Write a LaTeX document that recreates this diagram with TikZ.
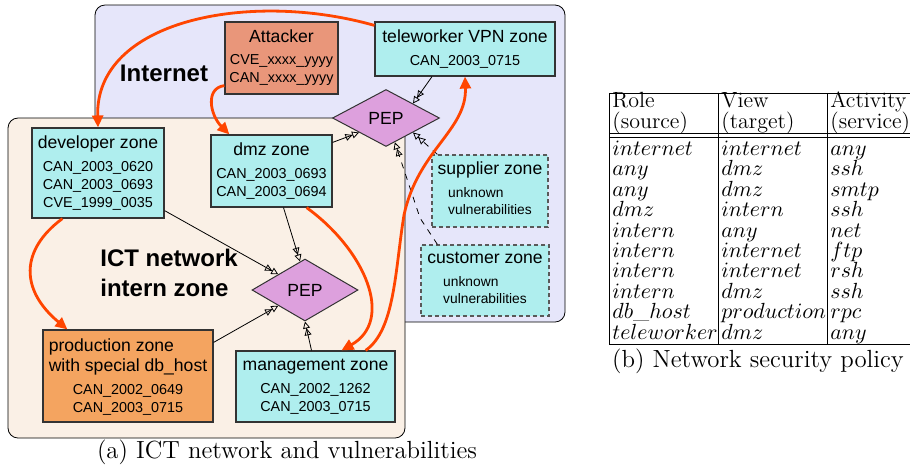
\documentclass[tikz,border=0pt]{standalone}
\usepackage{fontspec}
\usetikzlibrary{shapes.geometric,arrows.meta}
\newfontfamily\zonefont{Liberation Sans}

\definecolor{inetbg}{RGB}{230,230,250}
\definecolor{internbg}{RGB}{250,240,230}
\definecolor{zonebg}{RGB}{175,238,238}
\definecolor{attackbg}{RGB}{233,150,122}
\definecolor{prodbg}{RGB}{244,164,96}
\definecolor{pepbg}{RGB}{221,160,221}
\definecolor{exploitred}{RGB}{255,69,0}

\newcommand{\ztitle}{\fontsize{8.8}{10}\selectfont}
\newcommand{\zvul}{\fontsize{7.2}{9}\selectfont}
\newcommand{\zunk}{\fontsize{6.9}{8.5}\selectfont}

\tikzset{
  zone/.style={draw=black!80, line width=0.6pt, fill=zonebg, align=center,
    inner sep=0pt, font=\zonefont\zvul},
  extzone/.style={zone, draw=black!65, dash pattern=on 2pt off 1.5pt},
  pep/.style={diamond, draw=black!80, line width=0.5pt, fill=pepbg,
    inner sep=0pt, font=\zonefont\ztitle},
  link/.style={draw=black, line width=0.4pt,
    -{Triangle[open,length=3.5pt,width=3.5pt] Triangle[open,length=3.5pt,width=3.5pt]}},
  exploit/.style={draw=exploitred, line width=1.4pt,
    -{Triangle[length=6pt,width=5.5pt]}},
  cell/.style={anchor=base west, inner sep=0pt, font=\fontsize{11}{13}\selectfont},
  caption/.style={font=\fontsize{12.4}{14}\selectfont}
}

\begin{document}
\begin{tikzpicture}[x=0.5pt,y=-0.5pt]
  \useasboundingbox (0,0) rectangle (910,468);

  % network zones
  \draw[fill=inetbg, rounded corners=5pt] (95,5) rectangle (565,322);
  \draw[fill=internbg, rounded corners=5pt] (8,118) rectangle (405,438);
  \node[font=\zonefont\fontsize{12}{14}\selectfont\bfseries] (inetlabel) at (164,73) {Internet};
  \node[anchor=west, align=left, inner sep=0pt,
    font=\zonefont\fontsize{12}{14.7}\selectfont\bfseries] (internlabel) at (100,273)
    {ICT network\\intern zone};

  % zones and vulnerabilities
  \node[zone, fill=attackbg, minimum width=56.5pt, minimum height=36pt] (att) at (281.5,58)
    {{\ztitle Attacker}\\[2pt]CVE\_xxxx\_yyyy\\CAN\_xxxx\_yyyy};
  \node[zone, minimum width=90pt, minimum height=27pt] (tele) at (465,49)
    {{\ztitle teleworker VPN zone}\\[2.2pt]CAN\_2003\_0715};
  \node[zone, minimum width=66pt, minimum height=45pt] (dev) at (98,173)
    {{\ztitle developer zone}\\[2.2pt]CAN\_2003\_0620\\CAN\_2003\_0693\\CVE\_1999\_0035};
  \node[zone, minimum width=60.5pt, minimum height=36pt] (dmz) at (271.5,171)
    {{\ztitle dmz zone}\\[2.5pt]CAN\_2003\_0693\\CAN\_2003\_0694};
  \node[extzone, minimum width=58pt, minimum height=36pt] (sup) at (490,191)
    {{\ztitle supplier zone}\\[2.5pt]\zunk\begin{tabular}[t]{@{}l@{}}unknown\\vulnerabilities\end{tabular}};
  \node[extzone, minimum width=64pt, minimum height=35.5pt] (cust) at (485,280.5)
    {{\ztitle customer zone}\\[2.5pt]\zunk\begin{tabular}[t]{@{}l@{}}unknown\\vulnerabilities\end{tabular}};
  \node[zone, fill=prodbg, minimum width=85pt, minimum height=46pt] (prod) at (128,376)
    {{\ztitle\begin{tabular}[b]{@{}l@{}}production zone\\with special db\_host\end{tabular}}\\[2.5pt]CAN\_2002\_0649\\CAN\_2003\_0715};
  \node[zone, minimum width=79.5pt, minimum height=35.5pt] (mgmt) at (315.5,386.5)
    {{\ztitle management zone}\\[2.5pt]CAN\_2002\_1262\\CAN\_2003\_0715};

  % policy enforcement points
  \node[pep, minimum width=53.5pt, minimum height=28.5pt] (pepA) at (386,118) {PEP};
  \node[pep, minimum width=53pt, minimum height=31pt] (pepB) at (305,290) {PEP};

  \draw[link] ([xshift=-16.5pt]tele.south) -- (pepA.north east);
  \draw[link] ([yshift=-4pt]dmz.north east) -- (pepA.south west);
  \draw[link, dashed] ([xshift=3pt]sup.north west) -- (pepA.south east);
  \coordinate (custbend) at (420,218);
  \draw[link, dashed] ([xshift=8.5pt]cust.north west) -- (custbend) -- (pepA.-70);

  \draw[link] ([yshift=4pt]dev.south east) -- (pepB.north west);
  \draw[link] ([xshift=6pt]dmz.south) -- (pepB.100);
  \draw[link] ([yshift=-6.5pt]prod.north east) -- (pepB.south west);
  \draw[link] ([xshift=-2pt]mgmt.north) -- (pepB.south);

  % attack paths
  \draw[exploit] ([yshift=-2pt]tele.north west) .. controls (250,-10) and (95,20) .. (dev.north);
  \draw[exploit] ([yshift=4.5pt]att.south west) .. controls (205,88) and (210,115) .. ([xshift=9.5pt]dmz.north west);
  \draw[exploit] ([xshift=15.5pt]dev.south west) .. controls (20,250) and (20,290) .. ([xshift=12.5pt]prod.north west);
  \draw[exploit] ([xshift=-13pt]dmz.south east) .. controls (365,250) and (395,320) .. ([xshift=13pt]mgmt.north);
  \coordinate (telebend) at (404,215);
  \draw[exploit] ([xshift=-15pt]mgmt.north east) .. controls (395,330) and (395,270) .. (telebend)
    .. controls (418,150) and (467,130) .. (tele.south);

  \node[caption] (capa) at (287,452) {(a) ICT network and vulnerabilities};

  % security policy table
  \draw (609,93) -- (915,93);
  \draw (609,133) -- (915,133);
  \draw (609,137) -- (915,137);
  \draw (609,344) -- (915,344);
  \foreach \xx in {609,718,827}
    \draw (\xx,93) -- (\xx,344);
  \node[cell] (hdrole) at (612,107) {Role};
  \node[cell] (subrole) at (612,128) {(source)};
  \node[cell] (hdview) at (721,107) {View};
  \node[cell] (subview) at (721,128) {(target)};
  \node[cell] (hdact) at (830,107) {Activity};
  \node[cell] (subact) at (830,128) {(service)};
  \foreach \src/\tgt/\act [count=\i from 0] in {internet/internet/any, any/dmz/ssh,
      any/dmz/smtp, dmz/intern/ssh, intern/any/net, intern/internet/ftp,
      intern/internet/rsh, intern/dmz/ssh, db\_host/production/rpc, teleworker/dmz/any}
  {
    \node[cell] (src\i) at (612,{155.5+20.4*\i}) {$\src$};
    \node[cell] (tgt\i) at (721,{155.5+20.4*\i}) {$\tgt$};
    \node[cell] (act\i) at (830,{155.5+20.4*\i}) {$\act$};
  }
  \node[caption] (capb) at (758,361) {(b) Network security policy};
\end{tikzpicture}
\end{document}
